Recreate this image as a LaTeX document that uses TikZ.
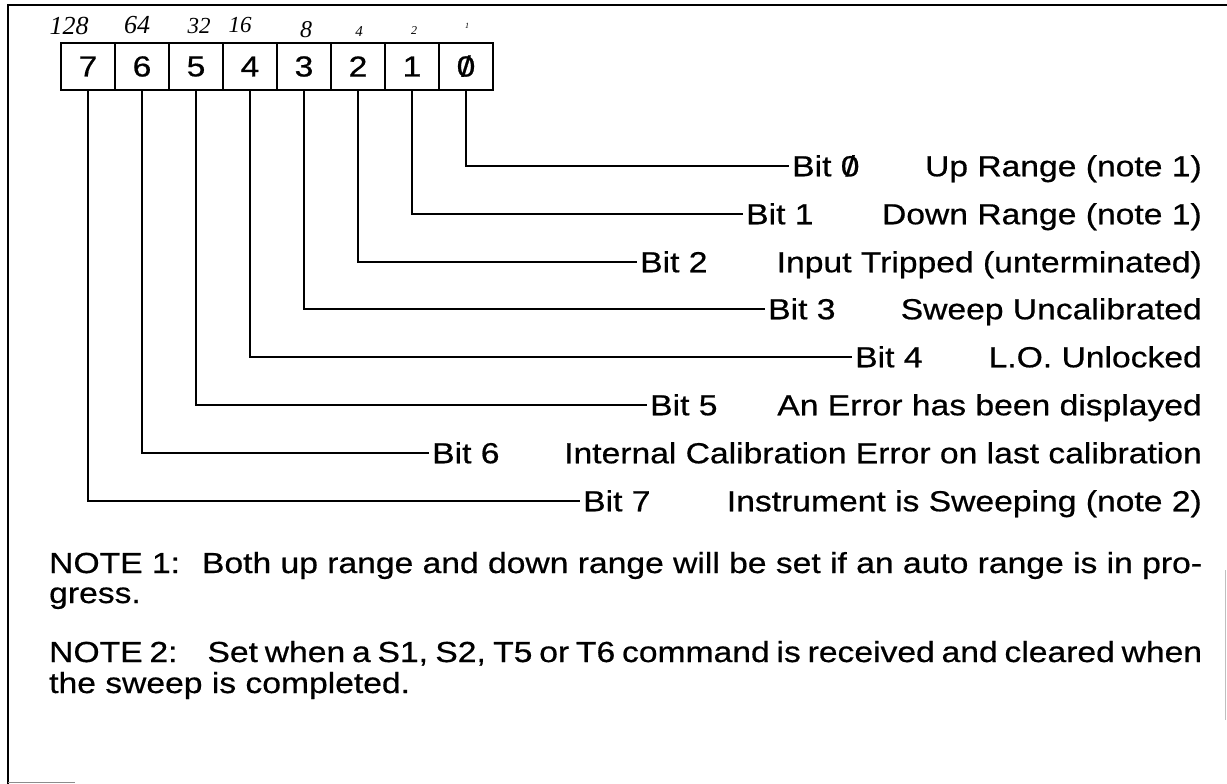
\documentclass[tikz,border=0pt]{standalone}
\usepackage{fontspec}
\setmainfont{Liberation Sans}[FakeStretch=1.16,FakeBold=0.6]
\newfontfamily\handfont{Liberation Serif}
\newcommand\txtsize{\fontsize{29pt}{34pt}\selectfont}
\newcommand\slz{\ooalign{0\cr\hidewidth/\hidewidth\cr}}
\begin{document}
\begin{tikzpicture}[x=1pt,y=-1pt]
\tikzset{
  frame/.style={line width=2.8pt},
  wire/.style={line width=2.8pt},
  cell/.style={draw, line width=2.6pt, minimum width=54pt, minimum height=47pt, inner sep=0pt, font=\txtsize},
  bitlbl/.style={anchor=west, inner ysep=0pt, inner xsep=3pt, text height=20.5pt, text depth=0pt, font=\txtsize},
  desc/.style={anchor=east, inner sep=0pt, text height=20.5pt, text depth=0pt, font=\txtsize},
  note/.style={anchor=base west, inner sep=0pt, font=\txtsize},
  hand/.style={inner sep=0pt}
}
\fill[white] (0,0) rectangle (1227,784);
\useasboundingbox (0,0) rectangle (1227,784);
% frame
\draw[frame] (8,784) -- (8,5) -- (1227,5);
\draw[black!45, line width=1.5pt] (8,782.5) -- (75,782.5);
\draw[black!25, line width=1.5pt] (1225.5,570) -- (1225.5,720);
% handwritten weights
\node[hand, font=\handfont\itshape\fontsize{26pt}{26pt}\selectfont] (h128) at (69,26) {128};
\node[hand, font=\handfont\itshape\fontsize{26pt}{26pt}\selectfont] (h64) at (137,25) {64};
\node[hand, font=\handfont\itshape\fontsize{23pt}{23pt}\selectfont] (h32) at (199,26) {32};
\node[hand, font=\handfont\itshape\fontsize{23pt}{23pt}\selectfont] (h16) at (240,25) {16};
\node[hand, font=\handfont\itshape\fontsize{24pt}{24pt}\selectfont] (h8) at (306,30) {8};
\node[hand, font=\handfont\itshape\fontsize{15pt}{15pt}\selectfont] (h4) at (359,32) {4};
\node[hand, font=\handfont\itshape\fontsize{12pt}{12pt}\selectfont] (h2) at (414,31) {2};
\node[hand, font=\handfont\itshape\fontsize{8pt}{8pt}\selectfont] (h1) at (467,26) {1};
% cells
\node[cell] (c7) at (88,66.5) {7};
\node[cell] (c6) at (142,66.5) {6};
\node[cell] (c5) at (196,66.5) {5};
\node[cell] (c4) at (250,66.5) {4};
\node[cell] (c3) at (304,66.5) {3};
\node[cell] (c2) at (358,66.5) {2};
\node[cell] (c1) at (412,66.5) {1};
\node[cell] (c0) at (466,66.5) {\slz};
% bit labels
\node[bitlbl] (b0) at (789,166) {Bit \slz};
\node[bitlbl] (b1) at (743,214) {Bit 1};
\node[bitlbl] (b2) at (637,262) {Bit 2};
\node[bitlbl] (b3) at (765,309) {Bit 3};
\node[bitlbl] (b4) at (852,357) {Bit 4};
\node[bitlbl] (b5) at (647,405) {Bit 5};
\node[bitlbl] (b6) at (429,453) {Bit 6};
\node[bitlbl] (b7) at (580,501) {Bit 7};
% descriptions
\node[desc] (d0) at (1202,166) {Up Range (note 1)};
\node[desc] (d1) at (1202,214) {Down Range (note 1)};
\node[desc] (d2) at (1202,262) {Input Tripped (unterminated)};
\node[desc] (d3) at (1202,309) {Sweep Uncalibrated};
\node[desc] (d4) at (1202,357) {L.O. Unlocked};
\node[desc] (d5) at (1202,405) {An Error has been displayed};
\node[desc] (d6) at (1202,453) {Internal Calibration Error on last calibration};
\node[desc] (d7) at (1202,501) {Instrument is Sweeping (note 2)};
% connectors
\foreach \k in {0,...,7} { \draw[wire] (c\k.south) |- (b\k.west); }
% notes
\node[note] (n1a) at (49,573) {\makebox[1153pt][s]{NOTE 1:\hspace{22pt}Both up range and down range will be set if an auto range is in pro-}};
\node[note] (n1b) at (49,603) {gress.};
\node[note] (n2a) at (49,662) {\makebox[1153pt][s]{NOTE 2:\hspace{30pt}Set when a S1, S2, T5 or T6 command is received and cleared when}};
\node[note] (n2b) at (49,693) {the sweep is completed.};
\end{tikzpicture}
\end{document}
